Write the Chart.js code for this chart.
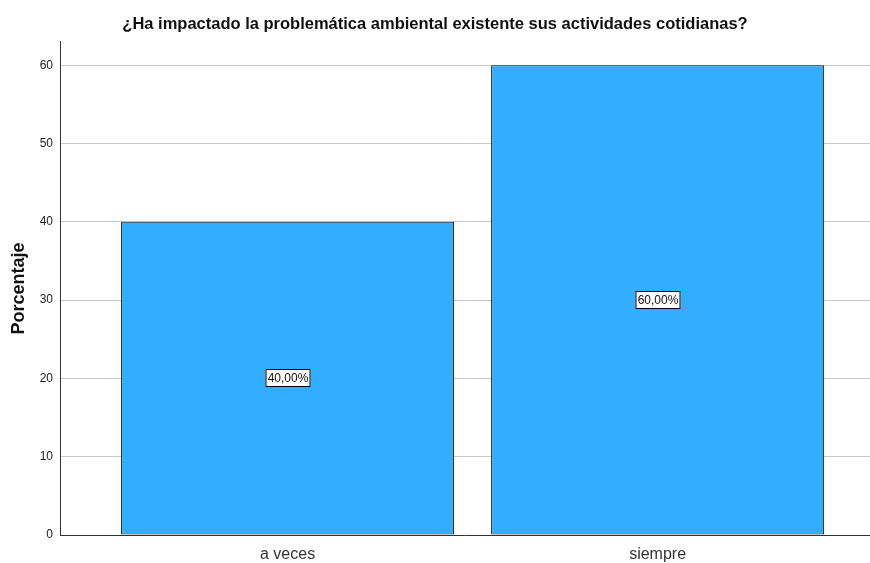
<!DOCTYPE html>
<html lang="es">
<head>
<meta charset="UTF-8">
<title>Porcentaje</title>
<script src="https://cdn.jsdelivr.net/npm/chart.js"></script>
<style>
  html, body { margin: 0; padding: 0; background: #fff; }
  #wrap { width: 870px; height: 563px; }
</style>
</head>
<body>
<div id="wrap"><canvas id="chart"></canvas></div>
<script>
const categories = ['a veces', 'siempre'];
const percentages = [40, 60];
const valueLabels = ['40,00%', '60,00%'];
const yTicks = [0, 10, 20, 30, 40, 50, 60];

const FONT = '"Liberation Sans", Arial, sans-serif';

// white boxed labels in the middle of each bar
const boxLabels = {
  id: 'boxLabels',
  afterDatasetsDraw(chart) {
    const ctx = chart.ctx;
    const meta = chart.getDatasetMeta(0);
    ctx.save();
    ctx.font = '12px ' + FONT;
    ctx.textAlign = 'center';
    ctx.textBaseline = 'middle';
    meta.data.forEach((bar, i) => {
      const txt = valueLabels[i];
      const cx = Math.round(bar.x);
      const cy = Math.round((bar.y + bar.base) / 2);
      const w = Math.ceil(ctx.measureText(txt).width) + 4;
      const h = 18;
      ctx.fillStyle = '#fff';
      ctx.fillRect(cx - w / 2, cy - h / 2, w, h);
      ctx.strokeStyle = '#000';
      ctx.lineWidth = 1;
      ctx.strokeRect(cx - w / 2 + 0.5, cy - h / 2 + 0.5, w - 1, h - 1);
      ctx.fillStyle = '#111';
      ctx.fillText(txt, cx, cy + 1);
    });
    ctx.restore();
  }
};

new Chart(document.getElementById('chart'), {
  type: 'bar',
  data: {
    datasets: [{
      data: categories.map((c, i) => ({ x: i, y: percentages[i] })),
      backgroundColor: '#33adff',
      borderColor: '#1a1a1a',
      borderWidth: 1,
      borderSkipped: false,
      barPercentage: 0.9,
      categoryPercentage: 1
    }]
  },
  options: {
    responsive: true,
    maintainAspectRatio: false,
    animation: false,
    layout: { padding: 0 },
    plugins: {
      legend: { display: false },
      tooltip: { enabled: false },
      title: {
        display: true,
        text: '¿Ha impactado la problemática ambiental existente sus actividades cotidianas?',
        color: '#111',
        font: { family: FONT, size: 16.5, weight: 'bold' },
        padding: { top: 15, bottom: 7 }
      }
    },
    scales: {
      x: {
        type: 'linear',
        offset: false,
        min: -0.615,
        max: 1.574,
        grid: { display: false },
        border: { color: '#333', width: 1 },
        afterBuildTicks(scale) {
          scale.ticks = categories.map((c, i) => ({ value: i }));
        },
        afterFit(scale) { scale.height = 28; },
        ticks: {
          color: '#333',
          font: { family: FONT, size: 16 },
          padding: 2,
          maxRotation: 0,
          callback: v => categories[v] ?? ''
        }
      },
      y: {
        min: 0,
        max: 63,
        afterBuildTicks(scale) {
          scale.ticks = yTicks.map(v => ({ value: v }));
        },
        afterFit(scale) { scale.width = 60; },
        grid: { color: '#c8c8c8', lineWidth: 1, drawTicks: false },
        border: { color: '#333', width: 1 },
        ticks: {
          color: '#222',
          font: { family: FONT, size: 12 },
          padding: 7
        },
        title: {
          display: true,
          text: 'Porcentaje',
          color: '#111',
          font: { family: FONT, size: 18, weight: 'bold' },
          padding: { top: 8, bottom: 4 }
        }
      }
    }
  },
  plugins: [boxLabels]
});
</script>
</body>
</html>
